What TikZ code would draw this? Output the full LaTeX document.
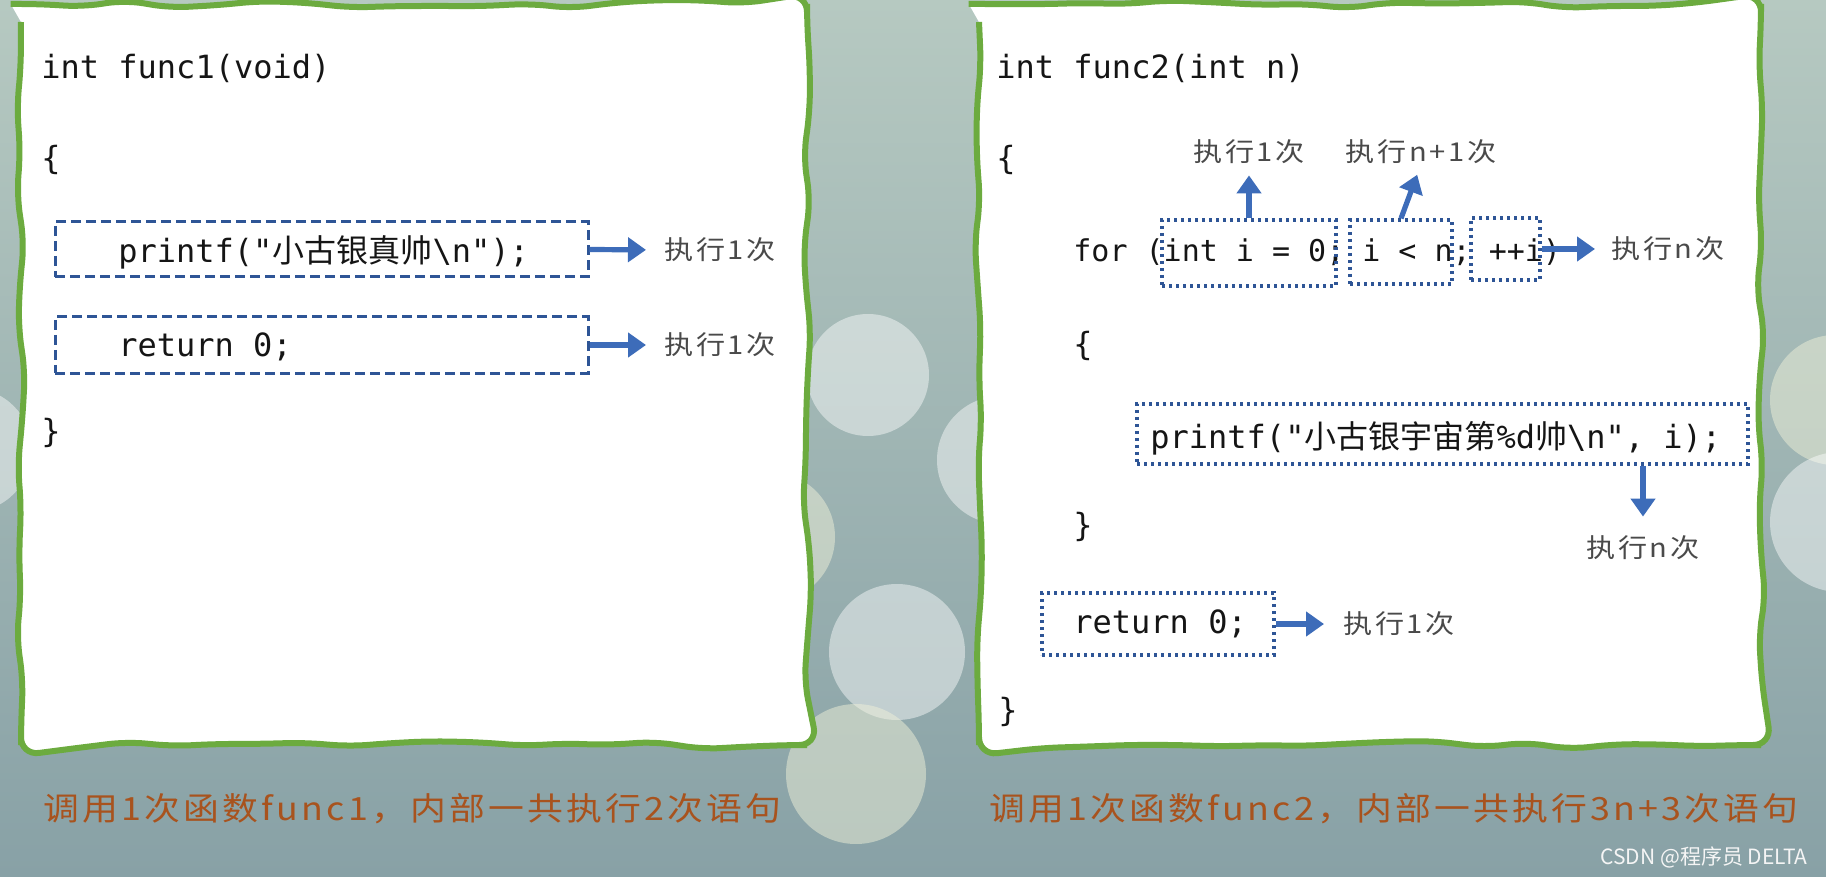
\documentclass[tikz,border=0pt]{standalone}
\usepackage{fontspec}
\setmonofont{DejaVu Sans Mono}
\newfontfamily\cjk{Noto Sans CJK SC}
\newfontfamily\widefont{Noto Sans CJK SC}[FakeStretch=1.12, LetterSpace=10]
\usetikzlibrary{arrows.meta, positioning, fit, decorations.pathmorphing}

\definecolor{panelgreen}{HTML}{6CAB3F}
\definecolor{boxblue}{HTML}{2E5596}
\definecolor{arrowblue}{HTML}{3D6CB9}
\definecolor{notegray}{HTML}{4A4A4A}
\definecolor{codeblack}{HTML}{151515}
\definecolor{capbrown}{HTML}{A8531E}
\definecolor{bgtop}{HTML}{B6C9C1}
\definecolor{bgbot}{HTML}{88A1A6}
\definecolor{bokehyellow}{HTML}{EEF0D8}

\begin{document}
\begin{tikzpicture}[x=0.5pt, y=-0.5pt,
  panel/.style={draw=panelgreen, line width=3pt, fill=white, decorate,
    decoration={random steps, segment length=22pt, amplitude=2.2pt}, rounded corners=9pt},
  code/.style={anchor=west, inner sep=0pt, text=codeblack, font=\ttfamily\fontsize{16}{19}\selectfont},
  forcode/.style={code, font=\ttfamily\fontsize{15}{18}\selectfont},
  note/.style={inner sep=0pt, text=notegray, font=\widefont\fontsize{13}{16}\selectfont},
  summary/.style={anchor=west, inner sep=0pt, text=capbrown, font=\widefont\fontsize{16}{19}\selectfont},
  dashbox/.style={draw=boxblue, line width=1.5pt, dash pattern=on 5pt off 2.5pt, inner sep=0pt},
  dotbox/.style={draw=boxblue, line width=1.6pt, dash pattern=on 1.6pt off 1.9pt, inner sep=0pt},
  blockarrow/.style={draw=arrowblue, line width=2.6pt, -{Triangle[length=9pt, width=12pt]}},
  bokeh/.style={fill=white, opacity=0.45},
  bokehpale/.style={fill=bokehyellow, opacity=0.5}
]
% background
\fill[top color=bgtop, bottom color=bgbot] (0,0) rectangle (1826,877);
\useasboundingbox (0,0) rectangle (1826,877);
\fill[bokeh] (868,375) circle (61);
\fill[bokeh] (1001,460) circle (64);
\fill[bokehpale] (770,537) circle (65);
\fill[bokeh] (897,652) circle (68);
\fill[bokehpale] (856,774) circle (70);
\fill[bokeh] (-30,450) circle (62);
\fill[bokehpale] (1835,400) circle (65);
\fill[bokeh] (1840,522) circle (70);

% panels
\pgfmathsetseed{5}
\path[panel] (21,4) rectangle (807,745);
\path[panel] (979,4) rectangle (1761,745);

% func1
\node[code] (head1) at (41,68) {int func1(void)};
\node[code] (open1) at (41,160) {\{};
\node[dashbox, fit={(55,222) (588,277)}] (printbox1) {};
\node[code] (print1) at (118,252) {printf("{\cjk 小古银真帅}\textbackslash n");};
\node[dashbox, fit={(55,317) (588,373)}] (retbox1) {};
\node[code] (ret1) at (118,347) {return 0;};
\node[code] (close1) at (41,433) {\}};
\node[note, anchor=west] (once1) at (664,250) {执行1次};
\node[note, anchor=west] (once2) at (664,345) {执行1次};
\draw[blockarrow, shorten >=9pt] (printbox1.east) -- (once1.west);
\draw[blockarrow, shorten >=9pt] (retbox1.east) -- (once2.west);

% func2
\node[code] (head2) at (996,68) {int func2(int n)};
\node[code] (open2) at (996,160) {\{};
\node[forcode] (loop) at (1073,252) {for (int i = 0; i < n; ++i)};
\node[dotbox, fit={(1162,220) (1336,286)}] (initbox) {};
\node[dotbox, fit={(1350,220) (1452,284)}] (condbox) {};
\node[dotbox, fit={(1471,218) (1540,280)}] (incbox) {};
\node[note] (initnote) at (1249,152) {执行1次};
\node[note] (condnote) at (1421,152) {执行n+1次};
\node[note, anchor=west] (incnote) at (1611,249) {执行n次};
\draw[blockarrow, shorten >=5.5pt] (initbox.north) -- (initnote.south);
\draw[blockarrow, shorten >=5.5pt] (condbox.north) -- (condnote.south);
\draw[blockarrow, shorten >=8pt] (incbox.east) -- (incnote.west);
\node[code] (open3) at (1073,346) {\{};
\node[dotbox, fit={(1137,404) (1748,464)}] (bodybox) {};
\node[code] (print2) at (1150,438) {printf("{\cjk 小古银宇宙第}\%d{\cjk 帅}\textbackslash n", i);};
\node[note] (bodynote) at (1643,548) {执行n次};
\draw[blockarrow, shorten >=9.5pt] (bodynote.north |- bodybox.south) -- (bodynote.north);
\node[code] (close3) at (1073,527) {\}};
\node[dotbox, fit={(1042,593) (1274,655)}] (retbox2) {};
\node[code] (ret2) at (1073,624) {return 0;};
\node[note, anchor=west] (once3) at (1343,624) {执行1次};
\draw[blockarrow, shorten >=9.5pt] (retbox2.east) -- (once3.west);
\node[code] (close2) at (998,712) {\}};

% summaries
\node[summary] (sum1) at (43,809) {调用1次函数func1，内部一共执行2次语句};
\node[summary] (sum2) at (989,809) {调用1次函数func2，内部一共执行3n+3次语句};
\node[anchor=east, inner sep=0pt, text=white!92!gray, font=\cjk\fontsize{10.5}{12}\selectfont] (mark) at (1808,857) {CSDN @程序员 DELTA};
\end{tikzpicture}
\end{document}
